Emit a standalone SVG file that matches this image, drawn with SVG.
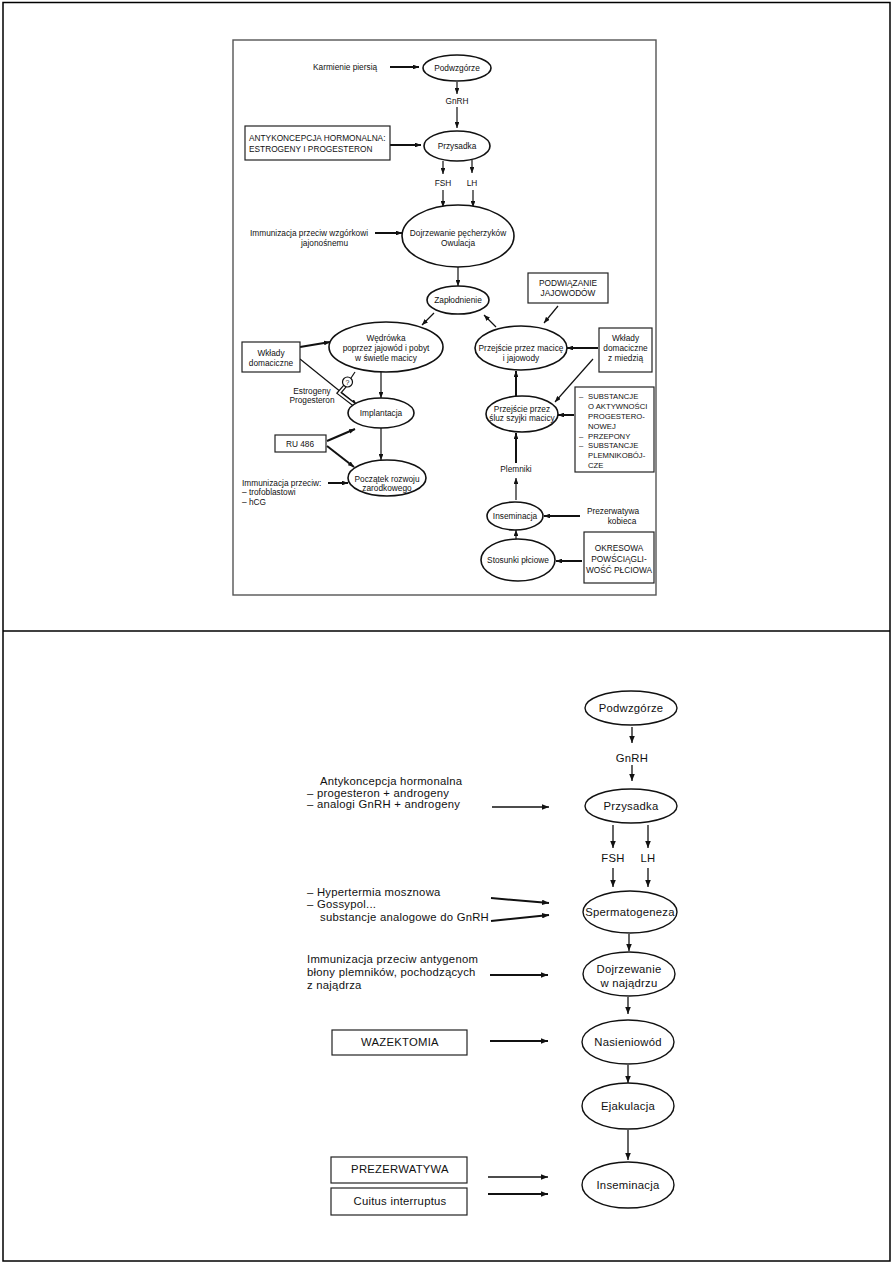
<svg xmlns="http://www.w3.org/2000/svg" width="893" height="1263" viewBox="0 0 893 1263">
<defs>
<style>
.t{font-family:"Liberation Sans",Arial,sans-serif;font-size:8.3px;fill:#111}
.s{font-size:7.7px}
.m{text-anchor:middle}
.tb{font-family:"Liberation Sans",Arial,sans-serif;font-size:11.3px;letter-spacing:0.25px;fill:#111}
.e{fill:#fff;stroke:#111;stroke-width:1.6}
.eb{fill:#fff;stroke:#111;stroke-width:1.4}
.bx{fill:#fff;stroke:#222;stroke-width:1.2}
.c{fill:none;stroke:#111;stroke-width:1.2;marker-end:url(#ah)}
.k{fill:none;stroke:#111;stroke-width:2;marker-end:url(#ah)}
.cb{fill:none;stroke:#111;stroke-width:1.3;marker-end:url(#ahb)}
.kb{fill:none;stroke:#111;stroke-width:2;marker-end:url(#ahb)}
</style>
<marker id="ah" viewBox="0 0 10 8" refX="10" refY="4" markerWidth="6" markerHeight="4.8" markerUnits="userSpaceOnUse" orient="auto"><path d="M0,0 L10,4 L0,8 z" fill="#111"/></marker>
<marker id="ahb" viewBox="0 0 10 8" refX="10" refY="4" markerWidth="7" markerHeight="5.6" markerUnits="userSpaceOnUse" orient="auto"><path d="M0,0 L10,4 L0,8 z" fill="#111"/></marker>
</defs>
<rect width="893" height="1263" fill="#fff"/>
<rect x="3" y="2.5" width="887" height="1258.5" fill="none" stroke="#000" stroke-width="1.5"/>
<line x1="3" y1="631" x2="890" y2="631" stroke="#000" stroke-width="1.5"/>
<rect x="233" y="40" width="423" height="555" fill="none" stroke="#555" stroke-width="1.4"/>

<g id="connectors">
<line class="k" x1="390" y1="67" x2="419" y2="67"/>
<line class="c" x1="457" y1="82" x2="457" y2="94"/>
<line class="c" x1="457" y1="107" x2="457" y2="128"/>
<line class="k" x1="390" y1="145" x2="421" y2="145"/>
<line class="c" x1="443" y1="161" x2="443" y2="174"/>
<line class="c" x1="472" y1="160" x2="472" y2="173"/>
<line class="c" x1="443" y1="190" x2="443" y2="207"/>
<line class="c" x1="473" y1="190" x2="473" y2="207"/>
<line class="k" x1="375" y1="233" x2="402" y2="233"/>
<line class="c" x1="458" y1="267" x2="458" y2="286"/>
<line class="c" x1="434" y1="313" x2="422" y2="325"/>
<line class="c" x1="496" y1="327" x2="484" y2="315"/>
<line class="c" x1="558" y1="306" x2="544" y2="323"/>
<line class="k" x1="300" y1="347" x2="330" y2="342"/>
<line class="c" x1="300" y1="359" x2="357" y2="405"/>
<line class="k" x1="598" y1="348" x2="567" y2="348"/>
<line class="c" x1="593" y1="359" x2="555" y2="402"/>
<line class="k" x1="516" y1="396" x2="516" y2="371"/>
<line class="c" x1="381" y1="372" x2="381" y2="398"/>
<line class="k" x1="574" y1="415" x2="558" y2="415"/>
<line class="k" x1="327" y1="441" x2="355" y2="429"/>
<line class="k" x1="327" y1="446" x2="354" y2="467"/>
<line class="c" x1="381" y1="428" x2="381" y2="460"/>
<line class="k" x1="328" y1="483" x2="348" y2="483"/>
<line class="k" x1="516" y1="463" x2="516" y2="433"/>
<line class="c" x1="516" y1="500" x2="516" y2="478"/>
<line class="k" x1="580" y1="516" x2="544" y2="516"/>
<line class="c" x1="516" y1="540" x2="516" y2="530"/>
<line class="k" x1="582" y1="561" x2="556" y2="561"/>
<line x1="351" y1="378" x2="355" y2="372" stroke="#111" stroke-width="1.2"/>
<path d="M345,386 L339,393 L356,406" fill="none" stroke="#111" stroke-width="4.2"/>
<path d="M345,386 L339,393 L356,406" fill="none" stroke="#fff" stroke-width="1.8"/>

<line class="cb" x1="632" y1="727" x2="632" y2="743"/>
<line class="cb" x1="632" y1="765" x2="632" y2="781"/>
<line class="cb" x1="492" y1="807" x2="549" y2="807"/>
<line class="cb" x1="613" y1="825" x2="613" y2="848"/>
<line class="cb" x1="648" y1="825" x2="648" y2="848"/>
<line class="cb" x1="613" y1="868" x2="613" y2="887"/>
<line class="cb" x1="648" y1="868" x2="648" y2="887"/>
<line class="kb" x1="491" y1="898" x2="549" y2="903"/>
<line class="kb" x1="491" y1="921" x2="549" y2="915"/>
<line class="cb" x1="629" y1="934" x2="629" y2="951"/>
<line class="kb" x1="490" y1="975" x2="548" y2="975"/>
<line class="cb" x1="628" y1="997" x2="628" y2="1014"/>
<line class="kb" x1="490" y1="1041" x2="548" y2="1041"/>
<line class="cb" x1="628" y1="1065" x2="628" y2="1083"/>
<line class="cb" x1="628" y1="1130" x2="628" y2="1160"/>
<line class="cb" x1="488" y1="1177" x2="548" y2="1177"/>
<line class="kb" x1="488" y1="1194" x2="548" y2="1194"/>
</g>

<g id="t-karmienie"><text class="t" x="313" y="70">Karmienie piersią</text></g>
<g id="t-podwzgorze"><ellipse class="e" cx="457" cy="68" rx="34" ry="13"/><text class="t m" x="457" y="71">Podwzgórze</text></g>
<g id="t-gnrh"><text class="t m" x="457" y="104">GnRH</text></g>
<g id="t-antykoncepcja"><rect class="bx" x="245" y="126" width="145" height="34"/><text class="t" x="249" y="141">ANTYKONCEPCJA HORMONALNA:</text><text class="t" x="249" y="152">ESTROGENY I PROGESTERON</text></g>
<g id="t-przysadka"><ellipse class="e" cx="457" cy="146" rx="33" ry="15"/><text class="t m" x="457" y="149">Przysadka</text></g>
<g id="t-fsh"><text class="t m" x="443" y="186">FSH</text></g>
<g id="t-lh"><text class="t m" x="472" y="186">LH</text></g>
<g id="t-immun1"><text class="t" x="250" y="236">Immunizacja przeciw wzgórkowi</text><text class="t" x="301" y="246">jajonośnemu</text></g>
<g id="t-dojrzewanie"><ellipse class="e" cx="458" cy="236" rx="56" ry="31"/><text class="t m" x="458" y="236">Dojrzewanie pęcherzyków</text><text class="t m" x="458" y="246">Owulacja</text></g>
<g id="t-zaplodnienie"><ellipse class="e" cx="458" cy="300" rx="31" ry="14"/><text class="t m" x="458" y="303">Zapłodnienie</text></g>
<g id="t-podwiazanie"><rect class="bx" x="528" y="273" width="80" height="30"/><text class="t m" x="568" y="286">PODWIĄZANIE</text><text class="t m" x="568" y="296">JAJOWODÓW</text></g>
<g id="t-wedrowka"><ellipse class="e" cx="386" cy="347" rx="57" ry="25"/><text class="t m" x="386" y="341">Wędrówka</text><text class="t m" x="386" y="351">poprzez jajowód i pobyt</text><text class="t m" x="386" y="361">w świetle macicy</text></g>
<g id="t-wklady"><rect class="bx" x="242" y="342" width="58" height="30"/><text class="t m" x="271" y="356">Wkłady</text><text class="t m" x="271" y="366">domaciczne</text></g>
<g id="t-macica"><ellipse class="e" cx="521" cy="348" rx="46" ry="22"/><text class="t m" x="521" y="351">Przejście przez macicę</text><text class="t m" x="521" y="361">i jajowody</text></g>
<g id="t-wklady-miedz"><rect class="bx" x="599" y="328" width="53" height="44"/><text class="t m" x="625.5" y="341">Wkłady</text><text class="t m" x="625.5" y="351">domaciczne</text><text class="t m" x="625.5" y="361">z miedzią</text></g>
<g id="t-pytanie"><circle cx="347.5" cy="382" r="5" fill="#fff" stroke="#111" stroke-width="1.2"/><text class="t m" x="347.5" y="385" style="font-size:7px">?</text></g>
<g id="t-estrogeny"><text class="t m" x="312" y="394">Estrogeny</text><text class="t m" x="312" y="403">Progesteron</text></g>
<g id="t-implantacja"><ellipse class="e" cx="381" cy="413" rx="33" ry="15"/><text class="t m" x="381" y="416">Implantacja</text></g>
<g id="t-sluz"><ellipse class="e" cx="522" cy="414" rx="36" ry="18"/><text class="t m" x="522" y="412">Przejście przez</text><text class="t m" x="522" y="421">śluz szyjki macicy</text></g>
<g id="t-substancje"><rect class="bx" x="575" y="387" width="79" height="85"/>
<text class="t s" x="579" y="399">–</text><text class="t s" x="588" y="399">SUBSTANCJE</text>
<text class="t s" x="588" y="409">O AKTYWNOŚCI</text>
<text class="t s" x="588" y="419">PROGESTERO-</text>
<text class="t s" x="588" y="428.5">NOWEJ</text>
<text class="t s" x="579" y="438.5">–</text><text class="t s" x="588" y="438.5">PRZEPONY</text>
<text class="t s" x="579" y="448">–</text><text class="t s" x="588" y="448">SUBSTANCJE</text>
<text class="t s" x="588" y="458">PLEMNIKOBÓJ-</text>
<text class="t s" x="588" y="468">CZE</text></g>
<g id="t-ru486"><rect class="bx" x="275" y="435" width="51" height="17"/><text class="t m" x="300" y="447">RU 486</text></g>
<g id="t-poczatek"><ellipse class="e" cx="387" cy="478" rx="39" ry="18"/><text class="t m" x="387" y="482">Początek rozwoju</text><text class="t m" x="387" y="491">zarodkowego</text></g>
<g id="t-immun2"><text class="t" x="242" y="486">Immunizacja przeciw:</text><text class="t" x="242" y="495">–  trofoblastowi</text><text class="t" x="242" y="505">–  hCG</text></g>
<g id="t-plemniki"><text class="t m" x="516" y="472">Plemniki</text></g>
<g id="t-inseminacja"><ellipse class="e" cx="515" cy="516" rx="28" ry="14"/><text class="t m" x="515" y="519">Inseminacja</text></g>
<g id="t-prezerw-kob"><text class="t m" x="613" y="514">Prezerwatywa</text><text class="t m" x="622" y="524">kobieca</text></g>
<g id="t-stosunki"><ellipse class="e" cx="518" cy="560" rx="37" ry="21"/><text class="t m" x="518" y="563">Stosunki płciowe</text></g>
<g id="t-okresowa"><rect class="bx" x="584" y="532" width="70" height="51"/><text class="t m" x="619" y="551">OKRESOWA</text><text class="t m" x="619" y="562">POWŚCIĄGLI-</text><text class="t m" x="619" y="573">WOŚĆ PŁCIOWA</text></g>

<g id="b-podwzgorze"><ellipse class="eb" cx="631" cy="708" rx="46" ry="17"/><text class="tb m" x="631" y="712">Podwzgórze</text></g>
<g id="b-gnrh"><text class="tb m" x="632" y="762">GnRH</text></g>
<g id="b-antykoncepcja"><text class="tb" x="320" y="785">Antykoncepcja hormonalna</text><text class="tb" x="307" y="797">–  progesteron + androgeny</text><text class="tb" x="307" y="808">–  analogi GnRH + androgeny</text></g>
<g id="b-przysadka"><ellipse class="eb" cx="631" cy="806" rx="46" ry="17"/><text class="tb m" x="631" y="810">Przysadka</text></g>
<g id="b-fsh"><text class="tb m" x="613" y="862">FSH</text></g>
<g id="b-lh"><text class="tb m" x="648" y="862">LH</text></g>
<g id="b-hypertermia"><text class="tb" x="307" y="896">–  Hypertermia mosznowa</text><text class="tb" x="307" y="908">–  Gossypol...</text><text class="tb" x="320" y="921">substancje analogowe do GnRH</text></g>
<g id="b-spermatogeneza"><ellipse class="eb" cx="630" cy="912" rx="47" ry="21"/><text class="tb m" x="630" y="916">Spermatogeneza</text></g>
<g id="b-immunizacja"><text class="tb" x="307" y="963">Immunizacja przeciw antygenom</text><text class="tb" x="307" y="976">błony plemników, pochodzących</text><text class="tb" x="307" y="989">z najądrza</text></g>
<g id="b-dojrzewanie"><ellipse class="eb" cx="629" cy="974" rx="46" ry="22"/><text class="tb m" x="629" y="973">Dojrzewanie</text><text class="tb m" x="629" y="987">w najądrzu</text></g>
<g id="b-wazektomia"><rect class="bx" x="332" y="1030" width="135" height="25"/><text class="tb m" x="400" y="1046">WAZEKTOMIA</text></g>
<g id="b-nasieniowod"><ellipse class="eb" cx="628" cy="1042" rx="46" ry="22"/><text class="tb m" x="628" y="1046">Nasieniowód</text></g>
<g id="b-ejakulacja"><ellipse class="eb" cx="628" cy="1106" rx="46" ry="23"/><text class="tb m" x="628" y="1110">Ejakulacja</text></g>
<g id="b-prezerwatywa"><rect class="bx" x="331" y="1157" width="136" height="26"/><text class="tb m" x="400" y="1173">PREZERWATYWA</text></g>
<g id="b-cuitus"><rect class="bx" x="331" y="1188" width="136" height="27"/><text class="tb m" x="400" y="1205">Cuitus interruptus</text></g>
<g id="b-inseminacja"><ellipse class="eb" cx="628" cy="1185" rx="46" ry="23"/><text class="tb m" x="628" y="1189">Inseminacja</text></g>
</svg>
